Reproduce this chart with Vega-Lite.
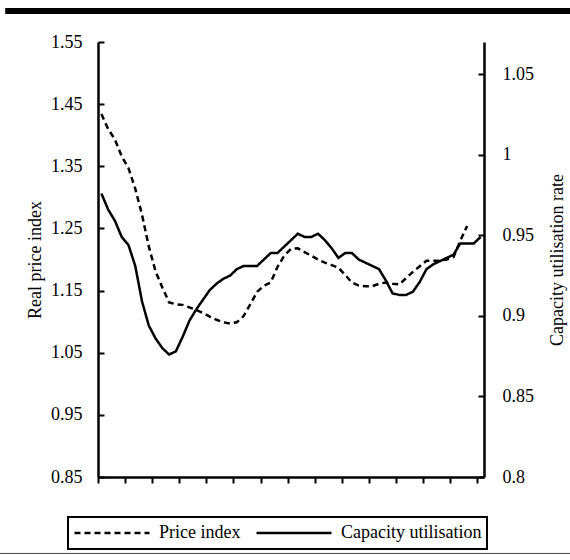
{
  "$schema": "https://vega.github.io/schema/vega-lite/v6.json",
  "width": 386,
  "height": 435,
  "autosize": {"type": "none"},
  "padding": {"left": 98, "top": 42, "right": 86, "bottom": 83},
  "background": "white",
  "config": {
    "view": {"stroke": null},
    "font": "Liberation Serif",
    "axis": {
      "labelFont": "Liberation Serif",
      "titleFont": "Liberation Serif",
      "labelFontSize": 18,
      "titleFontSize": 18,
      "titleFontWeight": "normal",
      "labelColor": "black",
      "titleColor": "black",
      "domainColor": "black",
      "tickColor": "black",
      "domainWidth": 2.5,
      "tickWidth": 2,
      "grid": false
    },
    "legend": {
      "strokeColor": "black",
      "strokeWidth": 2,
      "padding": 5
    }
  },
  "data": {
    "values": [
      {"t": 1, "s": "Price index", "v": 1.434},
      {"t": 2, "s": "Price index", "v": 1.410},
      {"t": 3, "s": "Price index", "v": 1.393},
      {"t": 4, "s": "Price index", "v": 1.366},
      {"t": 5, "s": "Price index", "v": 1.347},
      {"t": 6, "s": "Price index", "v": 1.314},
      {"t": 7, "s": "Price index", "v": 1.272},
      {"t": 8, "s": "Price index", "v": 1.221},
      {"t": 9, "s": "Price index", "v": 1.181},
      {"t": 10, "s": "Price index", "v": 1.155},
      {"t": 11, "s": "Price index", "v": 1.131},
      {"t": 12, "s": "Price index", "v": 1.128},
      {"t": 13, "s": "Price index", "v": 1.127},
      {"t": 14, "s": "Price index", "v": 1.123},
      {"t": 15, "s": "Price index", "v": 1.119},
      {"t": 16, "s": "Price index", "v": 1.114},
      {"t": 17, "s": "Price index", "v": 1.108},
      {"t": 18, "s": "Price index", "v": 1.103},
      {"t": 19, "s": "Price index", "v": 1.099},
      {"t": 20, "s": "Price index", "v": 1.097},
      {"t": 21, "s": "Price index", "v": 1.099},
      {"t": 22, "s": "Price index", "v": 1.109},
      {"t": 23, "s": "Price index", "v": 1.128},
      {"t": 24, "s": "Price index", "v": 1.148},
      {"t": 25, "s": "Price index", "v": 1.158},
      {"t": 26, "s": "Price index", "v": 1.163},
      {"t": 27, "s": "Price index", "v": 1.188},
      {"t": 28, "s": "Price index", "v": 1.206},
      {"t": 29, "s": "Price index", "v": 1.217},
      {"t": 30, "s": "Price index", "v": 1.218},
      {"t": 31, "s": "Price index", "v": 1.212},
      {"t": 32, "s": "Price index", "v": 1.206},
      {"t": 33, "s": "Price index", "v": 1.200},
      {"t": 34, "s": "Price index", "v": 1.195},
      {"t": 35, "s": "Price index", "v": 1.191},
      {"t": 36, "s": "Price index", "v": 1.187},
      {"t": 37, "s": "Price index", "v": 1.175},
      {"t": 38, "s": "Price index", "v": 1.163},
      {"t": 39, "s": "Price index", "v": 1.158},
      {"t": 40, "s": "Price index", "v": 1.157},
      {"t": 41, "s": "Price index", "v": 1.157},
      {"t": 42, "s": "Price index", "v": 1.161},
      {"t": 43, "s": "Price index", "v": 1.163},
      {"t": 44, "s": "Price index", "v": 1.161},
      {"t": 45, "s": "Price index", "v": 1.160},
      {"t": 46, "s": "Price index", "v": 1.170},
      {"t": 47, "s": "Price index", "v": 1.180},
      {"t": 48, "s": "Price index", "v": 1.189},
      {"t": 49, "s": "Price index", "v": 1.198},
      {"t": 50, "s": "Price index", "v": 1.198},
      {"t": 51, "s": "Price index", "v": 1.198},
      {"t": 52, "s": "Price index", "v": 1.200},
      {"t": 53, "s": "Price index", "v": 1.204},
      {"t": 54, "s": "Price index", "v": 1.230},
      {"t": 55, "s": "Price index", "v": 1.254},
      {"t": 1, "s": "Capacity utilisation", "v": 0.976},
      {"t": 2, "s": "Capacity utilisation", "v": 0.966},
      {"t": 3, "s": "Capacity utilisation", "v": 0.959},
      {"t": 4, "s": "Capacity utilisation", "v": 0.949},
      {"t": 5, "s": "Capacity utilisation", "v": 0.944},
      {"t": 6, "s": "Capacity utilisation", "v": 0.931},
      {"t": 7, "s": "Capacity utilisation", "v": 0.909},
      {"t": 8, "s": "Capacity utilisation", "v": 0.894},
      {"t": 9, "s": "Capacity utilisation", "v": 0.886},
      {"t": 10, "s": "Capacity utilisation", "v": 0.880},
      {"t": 11, "s": "Capacity utilisation", "v": 0.876},
      {"t": 12, "s": "Capacity utilisation", "v": 0.878},
      {"t": 13, "s": "Capacity utilisation", "v": 0.887},
      {"t": 14, "s": "Capacity utilisation", "v": 0.897},
      {"t": 15, "s": "Capacity utilisation", "v": 0.904},
      {"t": 16, "s": "Capacity utilisation", "v": 0.910},
      {"t": 17, "s": "Capacity utilisation", "v": 0.916},
      {"t": 18, "s": "Capacity utilisation", "v": 0.920},
      {"t": 19, "s": "Capacity utilisation", "v": 0.923},
      {"t": 20, "s": "Capacity utilisation", "v": 0.925},
      {"t": 21, "s": "Capacity utilisation", "v": 0.929},
      {"t": 22, "s": "Capacity utilisation", "v": 0.931},
      {"t": 23, "s": "Capacity utilisation", "v": 0.931},
      {"t": 24, "s": "Capacity utilisation", "v": 0.931},
      {"t": 25, "s": "Capacity utilisation", "v": 0.935},
      {"t": 26, "s": "Capacity utilisation", "v": 0.939},
      {"t": 27, "s": "Capacity utilisation", "v": 0.939},
      {"t": 28, "s": "Capacity utilisation", "v": 0.943},
      {"t": 29, "s": "Capacity utilisation", "v": 0.947},
      {"t": 30, "s": "Capacity utilisation", "v": 0.951},
      {"t": 31, "s": "Capacity utilisation", "v": 0.949},
      {"t": 32, "s": "Capacity utilisation", "v": 0.949},
      {"t": 33, "s": "Capacity utilisation", "v": 0.951},
      {"t": 34, "s": "Capacity utilisation", "v": 0.947},
      {"t": 35, "s": "Capacity utilisation", "v": 0.942},
      {"t": 36, "s": "Capacity utilisation", "v": 0.936},
      {"t": 37, "s": "Capacity utilisation", "v": 0.939},
      {"t": 38, "s": "Capacity utilisation", "v": 0.939},
      {"t": 39, "s": "Capacity utilisation", "v": 0.935},
      {"t": 40, "s": "Capacity utilisation", "v": 0.933},
      {"t": 41, "s": "Capacity utilisation", "v": 0.931},
      {"t": 42, "s": "Capacity utilisation", "v": 0.929},
      {"t": 43, "s": "Capacity utilisation", "v": 0.922},
      {"t": 44, "s": "Capacity utilisation", "v": 0.914},
      {"t": 45, "s": "Capacity utilisation", "v": 0.913},
      {"t": 46, "s": "Capacity utilisation", "v": 0.913},
      {"t": 47, "s": "Capacity utilisation", "v": 0.915},
      {"t": 48, "s": "Capacity utilisation", "v": 0.921},
      {"t": 49, "s": "Capacity utilisation", "v": 0.929},
      {"t": 50, "s": "Capacity utilisation", "v": 0.932},
      {"t": 51, "s": "Capacity utilisation", "v": 0.934},
      {"t": 52, "s": "Capacity utilisation", "v": 0.936},
      {"t": 53, "s": "Capacity utilisation", "v": 0.938},
      {"t": 54, "s": "Capacity utilisation", "v": 0.945},
      {"t": 55, "s": "Capacity utilisation", "v": 0.945},
      {"t": 56, "s": "Capacity utilisation", "v": 0.945},
      {"t": 57, "s": "Capacity utilisation", "v": 0.949}
    ]
  },
  "layer": [
    {
      "transform": [{"filter": "datum.s === 'Price index'"}],
      "mark": {"type": "line", "stroke": "black", "strokeWidth": 2.5, "strokeCap": "butt"},
      "encoding": {
        "x": {
          "field": "t",
          "type": "quantitative",
          "scale": {"domain": [0.5, 57.5], "nice": false, "zero": false},
          "axis": {
            "title": null,
            "labels": false,
            "values": [0.5, 4.5, 8.5, 12.5, 16.5, 20.5, 24.5, 28.5, 32.5, 36.5, 40.5, 44.5, 48.5, 52.5, 56.5],
            "tickCount": 30,
            "tickSize": 6
          }
        },
        "y": {
          "field": "v",
          "type": "quantitative",
          "scale": {"domain": [0.85, 1.55], "nice": false, "zero": false},
          "axis": {
            "orient": "left",
            "title": "Real price index",
            "values": [0.85, 0.95, 1.05, 1.15, 1.25, 1.35, 1.45, 1.55],
            "tickCount": 20,
            "format": ".2f",
            "tickSize": -6,
            "labelPadding": 22,
            "titlePadding": 6
          }
        },
        "strokeDash": {
          "field": "s",
          "type": "nominal",
          "scale": {"domain": ["Price index", "Capacity utilisation"], "range": [[6, 4], [1, 0]]},
          "legend": {
            "title": null,
            "orient": "none",
            "legendX": -30,
            "legendY": 475,
            "direction": "horizontal",
            "symbolType": "stroke",
            "symbolSize": 5625,
            "clipHeight": 22,
            "symbolStrokeWidth": 2.5,
            "symbolStrokeColor": "black",
            "labelFont": "Liberation Serif",
            "labelFontSize": 18,
            "labelColor": "black",
            "labelOffset": 8,
            "columnPadding": 14
          }
        }
      }
    },
    {
      "transform": [{"filter": "datum.s === 'Capacity utilisation'"}],
      "mark": {"type": "line", "stroke": "black", "strokeWidth": 2.5},
      "encoding": {
        "x": {"field": "t", "type": "quantitative"},
        "y": {
          "field": "v",
          "type": "quantitative",
          "scale": {"domain": [0.8, 1.07], "nice": false, "zero": false},
          "axis": {
            "orient": "right",
            "title": "Capacity utilisation rate",
            "titleAngle": 270,
            "titleBaseline": "top",
            "values": [0.8, 0.85, 0.9, 0.95, 1, 1.05],
            "tickCount": 20,
            "format": ".2~f",
            "tickSize": -6,
            "labelPadding": 24,
            "titlePadding": 15
          }
        },
        "strokeDash": {"field": "s", "type": "nominal"}
      }
    },
    {
      "data": {"values": [{}]},
      "mark": {"type": "rule", "stroke": "black", "strokeWidth": 6, "clip": false},
      "encoding": {
        "x": {"datum": -13.2},
        "x2": {"datum": 70.2},
        "y": {"datum": 1.6, "scale": {"domain": [0.85, 1.55], "nice": false, "zero": false}, "axis": null}
      }
    },
    {
      "data": {"values": [{}]},
      "mark": {"type": "rule", "stroke": "#444444", "strokeWidth": 1, "clip": false},
      "encoding": {
        "x": {"datum": -14.4},
        "x2": {"datum": 70.2},
        "y": {"datum": 0.727, "scale": {"domain": [0.85, 1.55], "nice": false, "zero": false}, "axis": null}
      }
    }
  ],
  "resolve": {"scale": {"y": "independent"}}
}
